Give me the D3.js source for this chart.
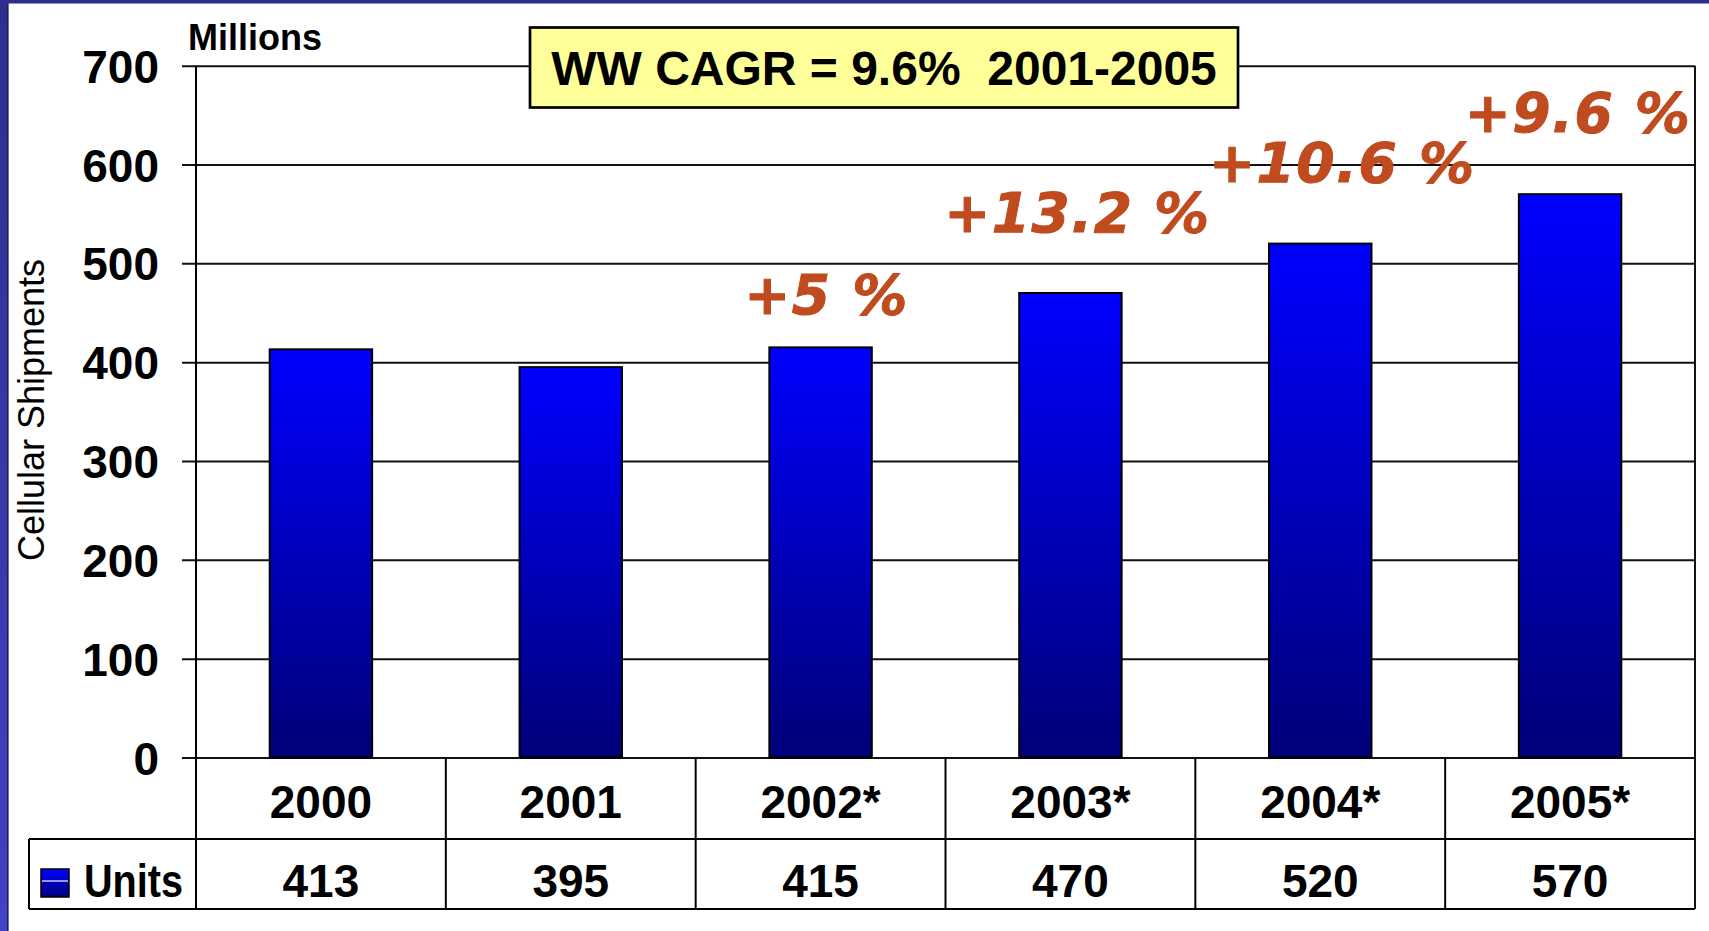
<!DOCTYPE html>
<html lang="en">
<head>
  <meta charset="UTF-8">
  <title>Cellular Shipments</title>
  <style>
    body { margin: 0; background: #fff; }
    svg { display: block; }
    .lbl { font-family: "Liberation Sans", Arial, sans-serif; font-weight: bold; fill: #000; }
    .growth { font-family: "DejaVu Sans", Verdana, sans-serif; font-weight: bold; font-style: italic;
              fill: #BF4B1F; stroke: #BF4B1F; stroke-width: 1px; letter-spacing: 1.5px; }
  </style>
</head>
<body>
  <div id="chart"></div>

  <script src="https://d3js.org/d3.v7.min.js"></script>
  <script>
    // data
    const years = ["2000", "2001", "2002*", "2003*", "2004*", "2005*"];
    const units = [413, 395, 415, 470, 520, 570];
    const growthYears = ["2002*", "2003*", "2004*", "2005*"];
    const growthLabels = ["+5 %", "+13.2 %", "+10.6 %", "+9.6 %"];
    const yTicks = [0, 100, 200, 300, 400, 500, 600, 700];
    const seriesName = "Units";
    const boxText = "WW CAGR = 9.6%  2001-2005";

    // layout
    const width = 1709, height = 931;
    const plotL = 196, plotR = 1695, plotT = 65.7, plotB = 757.5;
    const row1 = 839, row2 = 909, tableLeft = 29;
    // label nudges (px) relative to the bar top
    const growthNudge = [[6, -33], [7, -61], [22, -62], [8, -62]];

    const svg = d3.select("#chart").append("svg")
      .attr("width", width).attr("height", height);

    const defs = svg.append("defs");
    const bg = defs.append("linearGradient").attr("id", "barGrad")
      .attr("x1", 0).attr("y1", 0).attr("x2", 0).attr("y2", 1);
    bg.append("stop").attr("offset", "0%").attr("stop-color", "#0000ff");
    bg.append("stop").attr("offset", "100%").attr("stop-color", "#000078");
    const eg = defs.append("linearGradient").attr("id", "edgeGrad")
      .attr("x1", 0).attr("y1", 0).attr("x2", 0).attr("y2", 1);
    eg.append("stop").attr("offset", "0%").attr("stop-color", "#2e2e8c");
    eg.append("stop").attr("offset", "100%").attr("stop-color", "#4242c4");

    // slide frame
    svg.append("rect").attr("x", 0).attr("y", 0).attr("width", 7).attr("height", height).attr("fill", "url(#edgeGrad)");
    svg.append("rect").attr("x", 7).attr("y", 0).attr("width", 1.6).attr("height", height).attr("fill", "#1c1c6c");
    svg.append("rect").attr("x", 0).attr("y", 0).attr("width", width).attr("height", 3.5).attr("fill", "#2e2e8c");

    const x = d3.scaleBand().domain(years).range([plotL, plotR]).padding(0);
    const y = d3.scaleLinear().domain([0, 700]).range([plotB, plotT]);
    const barW = x.bandwidth() * 0.41;

    // gridlines + ticks
    const yAxis = svg.append("g")
      .attr("transform", `translate(${plotL},0)`)
      .call(d3.axisLeft(y).tickValues(yTicks).tickSize(14).tickFormat(d3.format("d")));
    yAxis.select(".domain").remove();
    yAxis.selectAll(".tick line")
      .attr("x1", -14).attr("x2", plotR - plotL)
      .attr("stroke", "#111").attr("stroke-width", 2);
    yAxis.selectAll(".tick text")
      .attr("class", "lbl").attr("x", -37).attr("dy", "0.36em")
      .style("font-size", "46px");

    // bars
    svg.selectAll("rect.bar").data(years).join("rect")
      .attr("class", "bar")
      .attr("x", d => x(d) + (x.bandwidth() - barW) / 2)
      .attr("y", (d, i) => y(units[i]))
      .attr("width", barW)
      .attr("height", (d, i) => y(0) - y(units[i]))
      .attr("fill", "url(#barGrad)")
      .attr("stroke", "#000").attr("stroke-width", 2);

    // plot frame: left axis and right edge
    svg.append("line").attr("x1", plotL).attr("x2", plotL).attr("y1", plotT).attr("y2", row2)
      .attr("stroke", "#000").attr("stroke-width", 2);
    svg.append("line").attr("x1", plotR).attr("x2", plotR).attr("y1", plotT).attr("y2", row2)
      .attr("stroke", "#111").attr("stroke-width", 2);

    // data table
    const tbl = svg.append("g").attr("stroke", "#000").attr("stroke-width", 2);
    tbl.append("line").attr("x1", tableLeft).attr("x2", plotR).attr("y1", row1).attr("y2", row1);
    tbl.append("line").attr("x1", tableLeft).attr("x2", plotR).attr("y1", row2).attr("y2", row2);
    tbl.append("line").attr("x1", tableLeft).attr("x2", tableLeft).attr("y1", row1).attr("y2", row2);
    tbl.selectAll("line.sep").data(years.slice(1)).join("line")
      .attr("class", "sep")
      .attr("x1", d => x(d)).attr("x2", d => x(d))
      .attr("y1", plotB).attr("y2", row2);

    svg.selectAll("text.year").data(years).join("text")
      .attr("class", "year lbl")
      .attr("x", d => x(d) + x.bandwidth() / 2)
      .attr("y", 818)
      .attr("text-anchor", "middle")
      .style("font-size", "46px")
      .text(d => d);

    svg.selectAll("text.val").data(units).join("text")
      .attr("class", "val lbl")
      .attr("x", (d, i) => x(years[i]) + x.bandwidth() / 2)
      .attr("y", 897)
      .attr("text-anchor", "middle")
      .style("font-size", "46px")
      .text(d => d);

    // legend key in the table
    svg.append("rect").attr("x", 41).attr("y", 869).attr("width", 28).attr("height", 28)
      .attr("fill", "url(#barGrad)").attr("stroke", "#000").attr("stroke-width", 1.5);
    svg.append("line").attr("x1", 42).attr("x2", 68).attr("y1", 881).attr("y2", 881)
      .attr("stroke", "#fff").attr("stroke-width", 1.2);
    svg.append("text").attr("class", "lbl")
      .attr("x", 84).attr("y", 897)
      .attr("textLength", 99).attr("lengthAdjust", "spacingAndGlyphs")
      .style("font-size", "46px")
      .text(seriesName);

    // growth labels
    svg.selectAll("text.growth").data(growthLabels).join("text")
      .attr("class", "growth")
      .attr("x", (d, i) => x(growthYears[i]) + x.bandwidth() / 2 + growthNudge[i][0])
      .attr("y", (d, i) => y(units[years.indexOf(growthYears[i])]) + growthNudge[i][1])
      .attr("text-anchor", "middle")
      .style("font-size", "55px")
      .style("white-space", "pre")
      .text(d => d);

    // "Millions" unit label
    svg.append("text").attr("class", "lbl")
      .attr("x", 188).attr("y", 50)
      .style("font-size", "36px")
      .text("Millions");

    // y axis title
    svg.append("text")
      .attr("transform", `translate(43.5,410) rotate(-90)`)
      .attr("text-anchor", "middle")
      .style("font-family", "'Liberation Sans', Arial, sans-serif")
      .style("font-size", "36px")
      .text("Cellular Shipments");

    // CAGR box
    svg.append("rect").attr("x", 530).attr("y", 27.5).attr("width", 708).attr("height", 80)
      .attr("fill", "#ffff99").attr("stroke", "#000").attr("stroke-width", 2.7);
    svg.append("text").attr("class", "lbl")
      .attr("x", 884).attr("y", 85)
      .attr("text-anchor", "middle")
      .style("font-size", "48px")
      .style("white-space", "pre")
      .text(boxText);
  </script>
</body>
</html>
